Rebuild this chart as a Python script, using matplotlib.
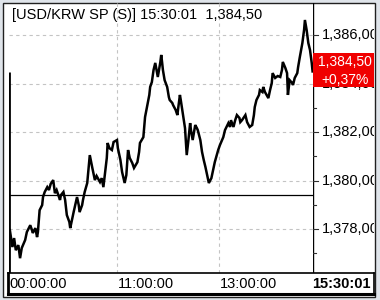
import matplotlib
matplotlib.use("Agg")
import matplotlib.pyplot as plt
from matplotlib.patches import Rectangle

# Minutes since 08:53 (chart start) and traded price
minutes = [1, 4, 6, 8, 11, 13, 15, 19, 21, 25, 27, 28, 31, 33, 34, 36, 39, 40, 42, 45,
           47, 49, 52, 54, 56, 60, 61, 64, 66, 68, 71, 72, 74, 76, 80, 82, 83, 86, 87, 89,
           92, 94, 95, 98, 101, 103, 107, 109, 111, 113, 115, 116, 118, 121, 123, 127, 128,
           131, 133, 136, 138, 140, 142, 145, 147, 151, 153, 154, 156, 158, 160, 162, 165,
           166, 168, 170, 172, 174, 175, 178, 179, 180, 181, 183, 186, 188, 189, 192, 193,
           196, 198, 199, 201, 202, 205, 207, 209, 211, 213, 214, 216, 219, 221, 222, 225,
           227, 229, 231, 233, 235, 238, 240, 242, 245, 246, 248, 252, 254, 258, 260, 261,
           264, 266, 268, 271, 272, 274, 278, 280, 283, 286, 288, 289, 291, 294, 295, 298,
           299, 301, 305, 307, 309, 310, 313, 316, 319, 321, 322, 325, 327, 328, 330, 333,
           334, 336, 339, 340, 342, 345, 347, 348, 349, 350, 352, 354, 356, 357]
prices = [1377.96, 1377.26, 1377.63, 1377.13, 1377.34, 1376.80, 1377.22, 1377.55, 1377.88,
          1378.16, 1377.96, 1377.84, 1378.04, 1377.67, 1377.88, 1378.78, 1378.99, 1379.32,
          1379.53, 1379.73, 1379.61, 1379.86, 1380.02, 1379.48, 1379.61, 1379.20, 1379.40,
          1379.53, 1379.20, 1378.58, 1378.29, 1378.04, 1378.37, 1378.70, 1379.32, 1378.99,
          1378.70, 1378.99, 1379.20, 1379.53, 1379.90, 1380.64, 1381.05, 1380.52, 1380.02,
          1380.19, 1379.94, 1380.10, 1379.73, 1380.35, 1380.93, 1381.55, 1381.34, 1381.26,
          1381.59, 1381.67, 1381.34, 1380.85, 1380.35, 1379.90, 1380.23, 1381.26, 1380.93,
          1380.72, 1380.52, 1380.76, 1381.18, 1381.55, 1381.67, 1381.79, 1382.62, 1382.99,
          1383.53, 1383.86, 1384.06, 1384.56, 1384.85, 1384.47, 1384.27, 1384.89, 1385.18,
          1384.89, 1384.56, 1384.14, 1383.86, 1383.44, 1383.32, 1383.20, 1383.11, 1382.91,
          1382.70, 1382.99, 1383.53, 1383.32, 1382.62, 1382.16, 1381.05, 1381.67, 1382.37,
          1382.08, 1381.67, 1382.29, 1382.16, 1382.08, 1381.67, 1381.18, 1380.85, 1380.56,
          1380.23, 1379.90, 1380.10, 1380.43, 1380.76, 1381.13, 1381.26, 1381.46, 1381.79,
          1382.08, 1382.37, 1382.21, 1382.49, 1382.21, 1382.49, 1382.70, 1382.58, 1382.41,
          1382.49, 1382.70, 1382.41, 1382.21, 1382.29, 1382.70, 1383.03, 1383.32, 1383.53,
          1383.73, 1383.65, 1383.86, 1383.65, 1383.40, 1383.73, 1384.02, 1384.43, 1384.23,
          1384.31, 1384.27, 1384.56, 1384.89, 1384.64, 1384.43, 1383.53, 1384.14, 1384.02,
          1383.94, 1384.23, 1384.43, 1384.68, 1385.09, 1385.67, 1386.21, 1386.62, 1386.41,
          1386.21, 1385.67, 1385.38, 1384.85, 1384.50]

open_price = 1384.47
prev_close = 1379.40
last_price = 1384.50
change_pct = 0.37
title = "[USD/KRW SP (S)] 15:30:01  1,384,50"
y_ticks = [1378, 1380, 1382, 1384, 1386]
y_minor = [1377, 1379, 1381, 1383, 1385]
x_ticks = [127, 247]
x_labels = ["11:00:00", "13:00:00"]
first_label = "00:00:00"
last_label = "15:30:01"

W, H = 380, 300
FONT = "Liberation Sans"
MIN_PER_PX = 357.5 / 304


def px_rect(x0, y0, x1, y1):
    return [x0 / W, 1 - y1 / H, (x1 - x0) / W, (y1 - y0) / H]


def krw(v):
    return f"{v:,.2f}".replace(".", ",")


fig = plt.figure(figsize=(W / 100, H / 100), dpi=100, facecolor="#dfe4ea")

# white window with a dark frame
bg = fig.add_axes([0, 0, 1, 1])
bg.set_xlim(0, W)
bg.set_ylim(H, 0)
bg.axis("off")
bg.add_patch(Rectangle((2.5, 2.5), 372, 294, fc="white", ec="#202020", lw=1))

ylim = (1376.19, 1387.32)
xlim = (0, 357.5)

ax = fig.add_axes(px_rect(9, 3, 313, 273))
ax.set_xlim(*xlim)
ax.set_ylim(*ylim)
for s in ax.spines.values():
    s.set_visible(False)
ax.set_xticks([])
ax.set_yticks([])
ax.patch.set_alpha(0)

grid_kw = dict(color="#c4c4c4", lw=0.8, ls=(0, (3, 3)), zorder=1)
for v in y_ticks:
    ax.axhline(v, **grid_kw)
for t in x_ticks:
    ax.axvline(t, **grid_kw)

ax.axhline(prev_close, color="black", lw=0.9, zorder=2)
ax.vlines(0.5, ylim[0], open_price, color="black", lw=2.0, zorder=3)
ax.plot(minutes, prices, color="black", lw=1.8, zorder=4, solid_joinstyle="miter")

fig.text(12 / W, 1 - 15.5 / H, title, family=FONT, fontsize=10.5, va="center", ha="left")

# right price scale
axr = fig.add_axes(px_rect(313, 3, 374, 273))
axr.set_xlim(0, 1)
axr.set_ylim(*ylim)
axr.axis("off")
axr.axvline(0, color="black", lw=1.0)
for v in y_ticks:
    axr.plot([0, 0.08], [v, v], color="#303030", lw=0.8)
    axr.text(0.15, v, krw(v), family=FONT, fontsize=10.5,
             va="center", ha="left", clip_on=True)
for v in y_minor:
    axr.plot([0, 0.05], [v, v], color="#303030", lw=0.8)

axr.add_patch(Rectangle((0, last_price - 0.64), 1.2, 1.41, fc="#f00000", ec="none",
                        zorder=5, clip_on=True))
axr.text(0.52, last_price + 0.38, krw(last_price), family=FONT,
         fontsize=10, color="white", va="center", ha="center", zorder=6, clip_on=True)
axr.text(0.52, last_price - 0.36, f"+{change_pct:.2f}%".replace(".", ","), family=FONT,
         fontsize=10, color="white", va="center", ha="center", zorder=6, clip_on=True)

# time axis bar
axt = fig.add_axes(px_rect(8, 273, 374, 294))
axt.set_xlim(-1 * MIN_PER_PX, 357.5 + 61 * MIN_PER_PX)
axt.set_ylim(0, 1)
axt.set_xticks([])
axt.set_yticks([])
for s in axt.spines.values():
    s.set_color("black")
    s.set_linewidth(1.2)
axt.spines["bottom"].set_linewidth(2.2)
axt.spines["left"].set_linewidth(2.0)
axt.text(1, 0.5, first_label, family=FONT, fontsize=10.5, va="center", ha="left")
for t, lab in zip(x_ticks, x_labels):
    axt.text(t + 1, 0.5, lab, family=FONT, fontsize=10.5, va="center", ha="left")
axt.text(0.99, 0.5, last_label, family=FONT, fontsize=10.5, fontweight="bold",
         va="center", ha="right", transform=axt.transAxes)

fig.savefig("out.png", dpi=100, facecolor=fig.get_facecolor())
